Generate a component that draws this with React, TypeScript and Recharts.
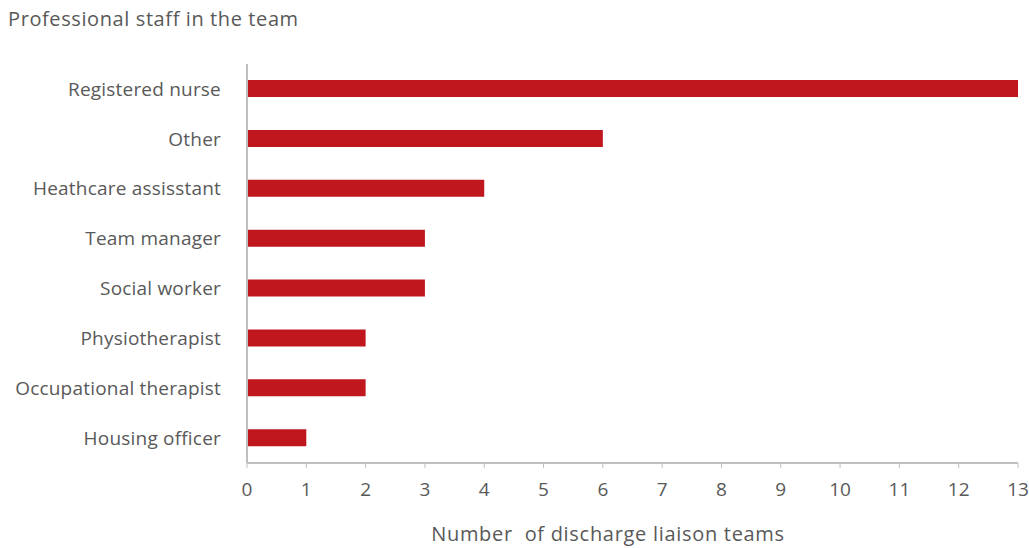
import React from "react"
import { BarChart, Bar, XAxis, YAxis } from "recharts"

// staff roles, top to bottom as in the figure
const roles = [
  "Registered nurse",
  "Other",
  "Heathcare assisstant",
  "Team manager",
  "Social worker",
  "Physiotherapist",
  "Occupational therapist",
  "Housing officer",
]
const teamCounts = [13, 6, 4, 3, 3, 2, 2, 1]
const xTicks = [0, 1, 2, 3, 4, 5, 6, 7, 8, 9, 10, 11, 12, 13]

const chartTitle = "Professional staff in the team"
const xAxisTitle = "Number  of discharge liaison teams"

const FONT = "'Open Sans', sans-serif"
const GREY = "#595959"

const rows = roles.map((role, i) => ({ role, teams: teamCounts[i] }))

export default function App() {
  return (
    <div style={{ position: "absolute", left: 0, top: 0, width: 1029, height: 548, background: "#fff", fontFamily: FONT }}>
      <div style={{ position: "absolute", left: 8, top: 5, fontSize: 20, letterSpacing: 0.6, color: GREY, whiteSpace: "pre" }}>
        {chartTitle}
      </div>
      <BarChart
        width={1029}
        height={548}
        data={rows}
        layout="vertical"
        margin={{ top: 64, right: 11, bottom: 55, left: 0 }}
      >
        <XAxis
          type="number"
          domain={[0, 13]}
          ticks={xTicks}
          interval={0}
          axisLine={{ stroke: "#bfbfbf", strokeWidth: 2 }}
          tickLine={{ stroke: "#bfbfbf" }}
          tickSize={5}
          tickMargin={15}
          tick={{ fill: GREY, fontSize: 19, fontFamily: FONT }}
        />
        <YAxis
          type="category"
          dataKey="role"
          width={247}
          axisLine={{ stroke: "#bfbfbf", strokeWidth: 2 }}
          tickLine={false}
          tickMargin={20}
          tick={{ fill: GREY, fontSize: 19, fontFamily: FONT, letterSpacing: 0.2 }}
        />
        <Bar dataKey="teams" fill="#c0161e" barSize={17} isAnimationActive={false} />
      </BarChart>
      <div style={{ position: "absolute", left: 0, width: 1216, top: 520, textAlign: "center", fontSize: 20, letterSpacing: 0.7, color: GREY, whiteSpace: "pre" }}>
        {xAxisTitle}
      </div>
    </div>
  )
}
